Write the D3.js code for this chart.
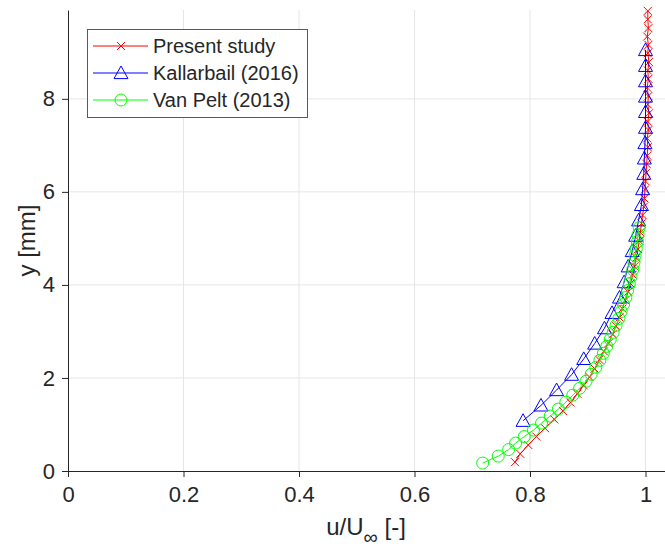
<!DOCTYPE html>
<html>
<head>
<meta charset="utf-8">
<script src="https://cdn.jsdelivr.net/npm/d3@7"></script>
<style>
  body { margin: 0; background: #fff; }
  text { font-family: "Liberation Sans", Arial, sans-serif; fill: #262626; }
</style>
</head>
<body>
<div id="chart"></div>
<script>
// boundary layer profiles
var presentY = [0.19, 0.37, 0.56, 0.74, 0.92, 1.11, 1.29, 1.47, 1.66, 1.84, 2.02, 2.20, 2.39, 2.57, 2.75, 2.94, 3.12, 3.30, 3.49, 3.67, 3.85, 4.03, 4.22, 4.40, 4.58, 4.77, 4.95, 5.13, 5.32, 5.50, 5.68, 5.86, 6.05, 6.23, 6.41, 6.60, 6.78, 6.96, 7.15, 7.33, 7.51, 7.69, 7.88, 8.06, 8.24, 8.43, 8.61, 8.79, 8.98, 9.16, 9.34, 9.52, 9.71, 9.89]
var presentU = [0.774, 0.783, 0.797, 0.811, 0.826, 0.842, 0.857, 0.870, 0.882, 0.893, 0.903, 0.912, 0.920, 0.928, 0.936, 0.943, 0.949, 0.955, 0.960, 0.965, 0.970, 0.974, 0.978, 0.981, 0.984, 0.987, 0.989, 0.991, 0.993, 0.995, 0.997, 0.998, 0.999, 1.000, 1.001, 1.002, 1.003, 1.004, 1.003, 1.005, 1.004, 1.006, 1.004, 1.005, 1.003, 1.005, 1.004, 1.006, 1.004, 1.005, 1.003, 1.005, 1.004, 1.004]

var kallY = [1.08, 1.41, 1.74, 2.07, 2.41, 2.74, 3.07, 3.40, 3.73, 4.06, 4.40, 4.73, 5.06, 5.39, 5.72, 6.06, 6.39, 6.72, 7.05, 7.38, 7.72, 8.05, 8.38, 8.71, 9.05]
var kallU = [0.788, 0.819, 0.846, 0.872, 0.893, 0.912, 0.929, 0.942, 0.955, 0.963, 0.970, 0.977, 0.983, 0.988, 0.993, 0.995, 0.997, 0.998, 0.999, 1.000, 1.000, 1.000, 1.000, 1.000, 1.000]

var peltY = [0.17, 0.32, 0.46, 0.60, 0.74, 0.88, 1.03, 1.18, 1.33, 1.48, 1.63, 1.78, 1.93, 2.08, 2.23, 2.38, 2.53, 2.68, 2.83, 2.98, 3.13, 3.28, 3.43, 3.58, 3.73, 3.88, 4.03, 4.18, 4.33, 4.48, 4.63, 4.78, 4.93, 5.08, 5.23]
var peltU = [0.718, 0.745, 0.763, 0.775, 0.790, 0.806, 0.820, 0.835, 0.849, 0.862, 0.874, 0.886, 0.897, 0.906, 0.914, 0.921, 0.927, 0.933, 0.939, 0.944, 0.949, 0.954, 0.958, 0.962, 0.966, 0.969, 0.972, 0.975, 0.978, 0.980, 0.982, 0.984, 0.986, 0.987, 0.989]

var xTicks = [0, 0.2, 0.4, 0.6, 0.8, 1]
var yTicks = [0, 2, 4, 6, 8]
var legendNames = ["Present study", "Kallarbail (2016)", "Van Pelt (2013)"]

var W = 665, H = 553
var margin = {top: 10, right: 0, bottom: 82, left: 68}

var x = d3.scaleLinear().domain([0, 1.05]).range([margin.left, margin.left + 1.05 * 577.5])
var y = d3.scaleLinear().domain([0, 9.91]).range([471, 10])

var svg = d3.select("#chart")
  .append("svg")
    .attr("width", W)
    .attr("height", H)

// grid
svg.append("g").selectAll("line")
  .data(xTicks.slice(1))
  .enter().append("line")
    .attr("x1", function(d) { return x(d) }).attr("x2", function(d) { return x(d) })
    .attr("y1", y(0)).attr("y2", y(9.91))
    .attr("stroke", "#e6e6e6").attr("stroke-width", 1)
svg.append("g").selectAll("line")
  .data(yTicks.slice(1))
  .enter().append("line")
    .attr("x1", x(0)).attr("x2", W)
    .attr("y1", function(d) { return y(d) }).attr("y2", function(d) { return y(d) })
    .attr("stroke", "#e6e6e6").attr("stroke-width", 1)

// axes
var xAxis = svg.append("g")
  .attr("transform", "translate(0," + y(0) + ")")
  .call(d3.axisBottom(x).tickValues(xTicks).tickSize(6).tickPadding(9).tickSizeOuter(0).tickFormat(d3.format("~g")))
var yAxis = svg.append("g")
  .attr("transform", "translate(" + x(0) + ",0)")
  .call(d3.axisLeft(y).tickValues(yTicks).tickSize(6).tickPadding(7).tickSizeOuter(0))
;[xAxis, yAxis].forEach(function(a) {
  a.select(".domain").attr("stroke", "#262626")
  a.selectAll(".tick line").attr("stroke", "#262626")
  a.selectAll(".tick text").style("font-size", "22px").style("font-family", "Liberation Sans, Arial, sans-serif").attr("fill", "#262626")
})
xAxis.select(".domain").attr("d", "M" + x(0) + ",0.5H" + W)

// axis labels
var xl = svg.append("text")
  .attr("x", 366).attr("y", 535)
  .attr("text-anchor", "middle")
  .style("font-size", "24px")
xl.append("tspan").text("u/U")
xl.append("tspan").attr("dy", 9).style("font-size", "20px").text("\u221e")
xl.append("tspan").attr("dy", -9).text(" [-]")

svg.append("text")
  .attr("transform", "translate(35," + ((y(0) + y(9.91)) / 2) + ") rotate(-90)")
  .attr("text-anchor", "middle")
  .style("font-size", "24px")
  .text("y [mm]")

// markers
function tri(s) { return "M0," + (-s) + "L" + (s * 1.0) + "," + (s * 0.8) + "L" + (-s * 1.0) + "," + (s * 0.8) + "Z" }
function cross(s) { return "M" + (-s) + "," + (-s) + "L" + s + "," + s + "M" + (-s) + "," + s + "L" + s + "," + (-s) }

var series = [
  {ys: presentY, us: presentU, color: "#ff0000", marker: "x"},
  {ys: kallY, us: kallU, color: "#0000ff", marker: "tri"},
  {ys: peltY, us: peltU, color: "#00ff00", marker: "o"}
]

function drawMarker(g, kind, color) {
  if (kind == "x") g.append("path").attr("d", cross(4)).attr("stroke", color).attr("fill", "none")
  else if (kind == "tri") g.append("path").attr("d", tri(7)).attr("stroke", color).attr("fill", "none")
  else g.append("circle").attr("r", 6).attr("stroke", color).attr("fill", "none")
}

var line = d3.line()
  .x(function(d) { return x(d[1]) })
  .y(function(d) { return y(d[0]) })

series.forEach(function(s) {
  var pts = d3.zip(s.ys, s.us)
  svg.append("path")
    .datum(pts)
    .attr("d", line)
    .attr("fill", "none")
    .attr("stroke", s.color)
    .attr("stroke-width", 1)
  svg.append("g").selectAll("g")
    .data(pts)
    .enter().append("g")
      .attr("transform", function(d) { return "translate(" + x(d[1]) + "," + y(d[0]) + ")" })
      .each(function() { drawMarker(d3.select(this), s.marker, s.color) })
})

// legend
var leg = svg.append("g")
leg.append("rect")
  .attr("x", 87.5).attr("y", 29.5).attr("width", 220).attr("height", 88)
  .attr("fill", "#fff").attr("stroke", "#595959").attr("stroke-width", 1)
var rowY = [46, 73, 100]
series.forEach(function(s, i) {
  leg.append("line")
    .attr("x1", 93).attr("x2", 148).attr("y1", rowY[i]).attr("y2", rowY[i])
    .attr("stroke", s.color).attr("stroke-width", 1)
  var g = leg.append("g").attr("transform", "translate(121," + rowY[i] + ")")
  drawMarker(g, s.marker, s.color)
  leg.append("text")
    .attr("x", 153).attr("y", rowY[i] + 7)
    .style("font-size", "20px")
    .attr("fill", "#000")
    .text(legendNames[i])
})
</script>
</body>
</html>
